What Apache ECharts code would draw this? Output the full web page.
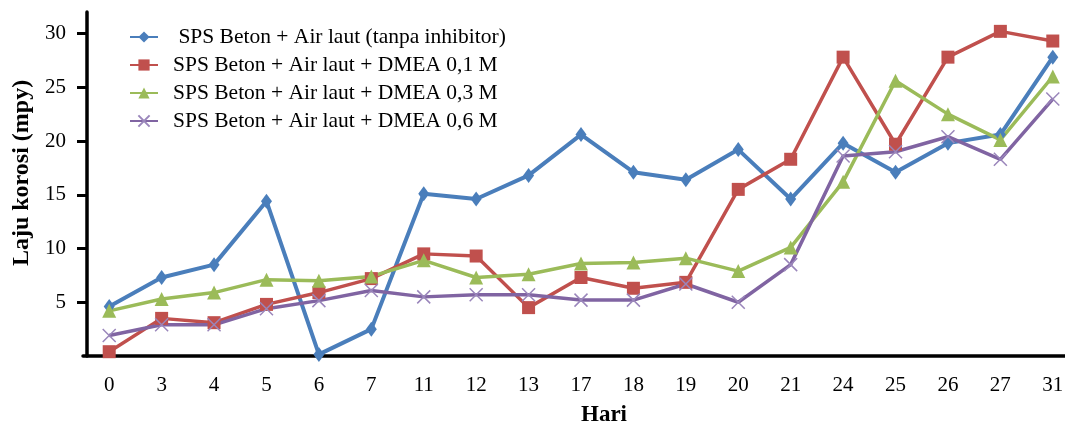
<!DOCTYPE html>
<html>
<head>
<meta charset="utf-8">
<script src="https://cdn.jsdelivr.net/npm/echarts@6/dist/echarts.min.js"></script>
<style>
html,body{margin:0;padding:0;background:#fff;}
#chart{width:1065px;height:428px;}
</style>
</head>
<body>
<div id="chart"></div>
<script>
const categories = ['0','3','4','5','6','7','11','12','13','17','18','19','20','21','24','25','26','27','31'];
const seriesNames = [
  'SPS Beton + Air laut (tanpa inhibitor)',
  'SPS Beton + Air laut + DMEA 0,1 M',
  'SPS Beton + Air laut + DMEA 0,3 M',
  'SPS Beton + Air laut + DMEA 0,6 M'
];
const tanpaInhibitor = [4.6, 7.3, 8.5, 14.4, 0.15, 2.5, 15.1, 14.6, 16.8, 20.6, 17.1, 16.4, 19.2, 14.6, 19.8, 17.1, 19.8, 20.6, 27.8];
const dmea01 = [0.4, 3.5, 3.1, 4.8, 5.9, 7.2, 9.5, 9.3, 4.5, 7.3, 6.3, 6.85, 15.5, 18.3, 27.8, 19.7, 27.8, 30.2, 29.3];
const dmea03 = [4.2, 5.3, 5.9, 7.1, 7.0, 7.4, 8.9, 7.3, 7.6, 8.6, 8.7, 9.1, 7.9, 10.1, 16.2, 25.6, 22.5, 20.1, 26.0];
const dmea06 = [1.9, 2.9, 2.9, 4.4, 5.15, 6.1, 5.5, 5.7, 5.7, 5.2, 5.2, 6.7, 5.0, 8.5, 18.6, 19.0, 20.4, 18.3, 23.9];
const yTicks = [5, 10, 15, 20, 25, 30];

const colors = ['#4A7EBB', '#C0504D', '#9BBB59', '#8064A2'];
const serif = '"Liberation Serif", "DejaVu Serif", serif';

const chart = echarts.init(document.getElementById('chart'));
const mk = (name, data, color, symbol, size, extra) => Object.assign({
  name: name,
  type: 'line',
  data: data,
  symbol: symbol,
  symbolSize: size,
  showAllSymbol: true,
  color: color,
  lineStyle: { width: 3.5, color: color },
  itemStyle: { color: color },
  emphasis: { disabled: true },
  animation: false
}, extra || {});

chart.setOption({
  animation: false,
  grid: { left: 83, right: -14, top: 12, bottom: 72, containLabel: false, outerBoundsMode: 'none' },
  legend: {
    orient: 'vertical',
    left: 124,
    top: 21,
    itemWidth: 28,
    itemHeight: 14,
    itemGap: 6,
    data: seriesNames,
    formatter: function (n) { return n === seriesNames[0] ? ' ' + n : n; },
    textStyle: { fontFamily: serif, fontSize: 21.5, color: '#000', lineHeight: 21.5, padding: [0, 0, 0, 10] }
  },
  xAxis: {
    type: 'category',
    data: categories,
    boundaryGap: true,
    name: 'Hari',
    nameLocation: 'middle',
    nameGap: 48,
    nameTextStyle: { fontFamily: serif, fontSize: 23, fontWeight: 'bold', color: '#000', padding: [0, 0, 0, 46] },
    axisLine: { lineStyle: { color: '#000', width: 3.5 } },
    axisTick: { alignWithLabel: true, length: 11, lineStyle: { color: '#000', width: 3 } },
    axisLabel: { fontFamily: serif, fontSize: 21, color: '#000', margin: 19, interval: 0 },
    splitLine: { show: false }
  },
  yAxis: {
    type: 'value',
    min: 0,
    max: 32,
    interval: 5,
    offset: -4,
    name: 'Laju korosi (mpy)',
    nameLocation: 'middle',
    nameGap: 48,
    nameTextStyle: { fontFamily: serif, fontSize: 24, fontWeight: 'bold', color: '#000', padding: [0, 0, 0, 22] },
    axisLine: { show: true, lineStyle: { color: '#000', width: 3.5 } },
    axisTick: { show: true, length: 10, customValues: yTicks, lineStyle: { color: '#000', width: 3 } },
    axisLabel: { fontFamily: serif, fontSize: 21, color: '#000', margin: 21, customValues: yTicks },
    splitLine: { show: false }
  },
  series: [
    mk(seriesNames[0], tanpaInhibitor, colors[0], 'diamond', [11, 15], { lineStyle: { width: 4, color: colors[0] } }),
    mk(seriesNames[1], dmea01, colors[1], 'rect', 13),
    mk(seriesNames[2], dmea03, colors[2], 'triangle', 14),
    mk(seriesNames[3], dmea06, colors[3], 'path://M0,0L10,10M10,0L0,10', 13, {
      itemStyle: { color: colors[3], borderColor: '#9A86BB', borderWidth: 1.5 }
    })
  ]
});
</script>
</body>
</html>
